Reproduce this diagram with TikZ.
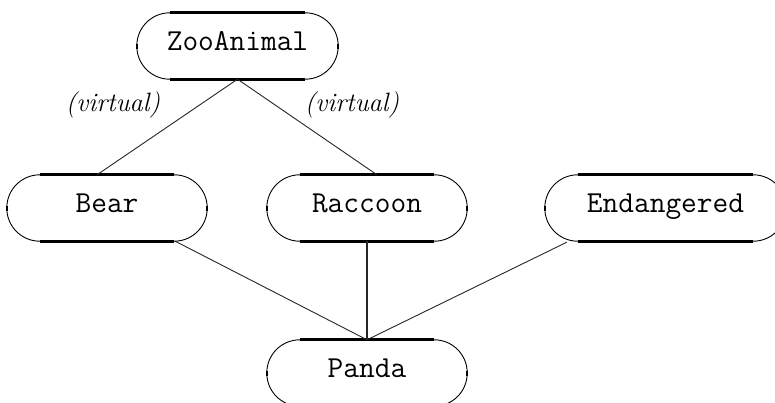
\documentclass[tikz,border=0pt]{standalone}
\usepackage{fontspec}
\usetikzlibrary{calc}
\tikzset{
  cls/.style={rectangle, draw=none, minimum height=66pt, inner sep=0pt,
    text height=19pt, text depth=10pt,
    font=\ttfamily\fontsize{30.5}{34}\selectfont},
  edge/.style={line width=0.9pt, black!85},
  vlabel/.style={font=\itshape\fontsize{26.5}{30}\selectfont}
}
\newcommand{\clsframe}[1]{%
  \draw[line width=0.9pt] ($(#1.north west)$) [rounded corners=33pt] rectangle ($(#1.south east)$);
  \draw[line width=3pt] ($(#1.north west)+(33pt,0)$) -- ($(#1.north east)+(-33pt,0)$);
  \draw[line width=3pt] ($(#1.south west)+(33pt,0)$) -- ($(#1.south east)+(-33pt,0)$);
  \draw[line width=2.4pt] ($(#1.west)+(0,-2.5pt)$) -- ($(#1.west)+(0,2.5pt)$);
  \draw[line width=2.4pt] ($(#1.east)+(0,-2.5pt)$) -- ($(#1.east)+(0,2.5pt)$);
}
\begin{document}
\begin{tikzpicture}[x=1pt,y=-1pt]
\useasboundingbox (0,0) rectangle (775,402);
\begin{scope}
\clip (0,0) rectangle (775,402);
\node[cls, minimum width=201pt] (zoo) at (237.5,46) {ZooAnimal};
\node[cls, minimum width=200pt] (bear) at (107,208) {Bear};
\node[cls, minimum width=200pt] (rac) at (367,208) {Raccoon};
\node[cls, minimum width=241pt] (end) at (665.5,208) {Endangered};
\node[cls, minimum width=200pt] (panda) at (367,373) {Panda};
\clsframe{zoo}
\clsframe{bear}
\clsframe{rac}
\clsframe{end}
\clsframe{panda}
\draw[edge] (zoo.south) -- ($(bear.north)+(-10pt,0)$);
\draw[edge] (zoo.south) -- ($(rac.north)+(10pt,0)$);
\draw[edge] ($(bear.south east)+(-32pt,0)$) -- (panda.north);
\draw[edge, line width=1.4pt] (rac.south) -- (panda.north);
\draw[edge] ($(end.south west)+(22pt,-1pt)$) -- (panda.north);
\end{scope}
\node[vlabel] (v1) at (113,105) {(virtual)};
\node[vlabel] (v2) at (352,105) {(virtual)};
\end{tikzpicture}
\end{document}
